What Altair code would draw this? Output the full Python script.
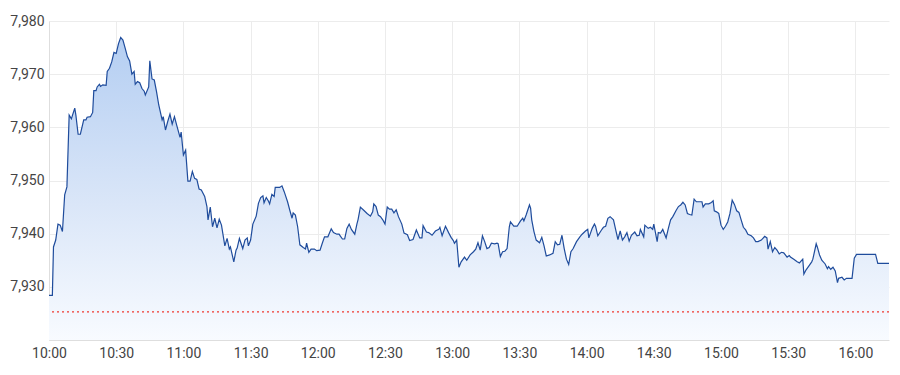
import altair as alt
import pandas as pd

# ---- data ----
times = [
    "10:00:00", "10:01:30", "10:02:00", "10:03:00", "10:04:00", "10:05:00", "10:06:00", "10:07:00",
    "10:08:00", "10:09:00", "10:10:00", "10:10:30", "10:11:30", "10:12:00", "10:13:00", "10:14:00",
    "10:15:30", "10:16:30", "10:17:00", "10:18:30", "10:19:30", "10:20:00", "10:21:00", "10:21:30",
    "10:22:30", "10:23:00", "10:24:00", "10:25:30", "10:26:00", "10:27:00", "10:28:00", "10:29:00",
    "10:30:00", "10:31:00", "10:32:00", "10:33:00", "10:34:00", "10:35:00", "10:36:00", "10:37:00",
    "10:38:00", "10:38:30", "10:39:30", "10:40:30", "10:41:30", "10:42:30", "10:43:00", "10:44:30",
    "10:45:00", "10:46:00", "10:47:00", "10:48:00", "10:49:00", "10:50:30", "10:51:00", "10:52:00",
    "10:53:00", "10:54:00", "10:55:00", "10:56:00", "10:57:00", "10:58:30", "10:59:00", "11:00:00",
    "11:01:00", "11:02:00", "11:03:00", "11:04:00", "11:05:00", "11:06:00", "11:07:00", "11:08:00",
    "11:09:30", "11:10:30", "11:11:00", "11:12:00", "11:13:00", "11:14:00", "11:15:00", "11:16:00",
    "11:17:00", "11:18:30", "11:19:30", "11:20:30", "11:21:00", "11:22:30", "11:23:30", "11:24:00",
    "11:25:00", "11:26:30", "11:27:30", "11:28:30", "11:29:00", "11:30:00", "11:31:00", "11:32:30",
    "11:33:30", "11:34:30", "11:35:30", "11:36:00", "11:37:00", "11:38:00", "11:38:30", "11:39:30",
    "11:40:30", "11:41:00", "11:43:00", "11:44:00", "11:45:00", "11:46:30", "11:47:30", "11:48:30",
    "11:49:00", "11:50:00", "11:51:00", "11:52:00", "11:53:30", "11:54:30", "11:55:00", "11:56:00",
    "11:57:00", "11:58:30", "11:59:30", "12:01:00", "12:02:00", "12:03:00", "12:04:30", "12:06:00",
    "12:07:00", "12:08:30", "12:09:30", "12:10:00", "12:11:00", "12:12:00", "12:13:00", "12:14:00",
    "12:15:00", "12:16:30", "12:17:30", "12:18:00", "12:19:00", "12:20:30", "12:22:00", "12:23:30",
    "12:24:30", "12:25:00", "12:26:00", "12:27:00", "12:28:00", "12:29:00", "12:30:00", "12:31:00",
    "12:32:00", "12:33:00", "12:34:00", "12:35:00", "12:36:00", "12:37:30", "12:38:30", "12:40:00",
    "12:41:00", "12:42:30", "12:44:00", "12:45:30", "12:46:30", "12:47:00", "12:48:30", "12:49:30",
    "12:51:00", "12:52:30", "12:54:00", "12:54:30", "12:55:30", "12:57:00", "12:58:30", "12:59:30",
    "13:00:30", "13:01:00", "13:02:00", "13:03:00", "13:04:00", "13:05:30", "13:06:30", "13:08:00",
    "13:09:30", "13:10:30", "13:11:30", "13:12:30", "13:13:30", "13:14:30", "13:15:30", "13:16:30",
    "13:17:30", "13:19:00", "13:20:00", "13:20:30", "13:21:30", "13:22:30", "13:23:30", "13:24:30",
    "13:25:30", "13:26:00", "13:27:30", "13:29:00", "13:30:30", "13:31:30", "13:32:00", "13:33:00",
    "13:34:30", "13:35:00", "13:35:30", "13:36:30", "13:37:30", "13:39:00", "13:40:00", "13:41:00",
    "13:42:00", "13:43:30", "13:45:00", "13:46:00", "13:47:00", "13:48:00", "13:49:00", "13:50:00",
    "13:51:00", "13:52:00", "13:53:00", "13:54:00", "13:55:30", "13:57:00", "13:58:00", "13:59:30",
    "14:00:30", "14:01:00", "14:02:30", "14:03:30", "14:04:00", "14:05:00", "14:06:30", "14:07:30",
    "14:08:30", "14:09:30", "14:10:30", "14:12:00", "14:13:00", "14:14:00", "14:15:00", "14:16:00",
    "14:17:00", "14:18:00", "14:19:00", "14:20:00", "14:21:30", "14:22:30", "14:23:30", "14:24:00",
    "14:25:30", "14:26:00", "14:27:30", "14:28:30", "14:29:30", "14:30:00", "14:31:30", "14:32:00",
    "14:33:00", "14:34:00", "14:35:30", "14:36:30", "14:37:30", "14:38:30", "14:40:00", "14:41:00",
    "14:42:00", "14:43:00", "14:44:00", "14:45:00", "14:46:00", "14:47:00", "14:48:00", "14:49:00",
    "14:50:30", "14:51:30", "14:52:00", "14:53:00", "14:54:30", "14:55:30", "14:56:30", "14:57:00",
    "14:58:00", "14:59:00", "15:00:00", "15:01:00", "15:02:00", "15:03:00", "15:04:00", "15:05:00",
    "15:06:00", "15:07:00", "15:08:00", "15:09:00", "15:10:00", "15:11:00", "15:12:00", "15:13:30",
    "15:14:30", "15:15:30", "15:16:30", "15:18:00", "15:19:30", "15:20:30", "15:21:00", "15:22:00",
    "15:23:00", "15:24:00", "15:25:00", "15:26:00", "15:27:00", "15:28:00", "15:29:30", "15:30:30",
    "15:31:00", "15:32:30", "15:34:00", "15:35:00", "15:36:30", "15:37:00", "15:38:00", "15:39:30",
    "15:40:30", "15:41:00", "15:42:30", "15:43:00", "15:44:00", "15:45:00", "15:46:30", "15:47:30",
    "15:48:00", "15:49:00", "15:50:00", "15:51:00", "15:52:00", "15:52:30", "15:54:00", "15:55:00",
    "15:56:00", "15:58:30", "15:59:30", "16:00:30", "16:09:00", "16:10:00", "16:15:00",
]

prices = [
    7928.4, 7928.4, 7937.5, 7938.8, 7941.8, 7941.6, 7940.4, 7947.3,
    7948.8, 7962.3, 7961.6, 7962.3, 7963.6, 7962.3, 7958.7, 7958.7,
    7961.4, 7961.4, 7961.9, 7962.0, 7962.8, 7966.9, 7966.9, 7967.6,
    7968.1, 7967.7, 7968.0, 7967.9, 7970.5, 7971.1, 7972.3, 7974.1,
    7973.9, 7975.7, 7976.9, 7976.4, 7974.9, 7973.3, 7972.5, 7970.0,
    7970.5, 7968.1, 7968.6, 7968.4, 7967.3, 7966.8, 7966.1, 7967.6,
    7972.5, 7969.1, 7968.9, 7966.7, 7964.2, 7961.4, 7962.0, 7959.5,
    7961.1, 7962.5, 7960.6, 7962.0, 7960.4, 7958.1, 7959.1, 7954.8,
    7955.7, 7949.9, 7949.9, 7951.7, 7950.4, 7950.2, 7948.4, 7948.2,
    7947.0, 7945.1, 7942.6, 7945.0, 7941.3, 7942.9, 7941.1, 7942.7,
    7941.6, 7937.7, 7939.1, 7937.1, 7937.5, 7934.7, 7936.9, 7937.3,
    7939.1, 7937.2, 7938.8, 7939.2, 7937.7, 7938.8, 7941.8, 7943.3,
    7945.7, 7946.8, 7947.1, 7945.8, 7946.8, 7946.1, 7945.6, 7947.4,
    7947.0, 7948.7, 7948.7, 7949.0, 7947.9, 7946.0, 7944.4, 7942.9,
    7943.9, 7943.5, 7941.3, 7937.9, 7937.4, 7937.1, 7938.2, 7936.5,
    7937.1, 7937.1, 7936.8, 7936.9, 7938.2, 7939.4, 7939.4, 7940.9,
    7940.2, 7939.9, 7939.9, 7939.6, 7939.0, 7939.0, 7941.0, 7941.8,
    7940.8, 7939.9, 7941.9, 7942.7, 7945.0, 7944.4, 7943.8, 7943.3,
    7944.1, 7945.6, 7945.1, 7943.5, 7943.2, 7942.6, 7941.8, 7945.0,
    7944.6, 7944.6, 7943.9, 7944.5, 7943.2, 7941.8, 7940.1, 7939.8,
    7938.7, 7938.9, 7940.7, 7939.2, 7939.2, 7941.5, 7940.3, 7940.2,
    7939.7, 7940.5, 7940.8, 7941.2, 7939.6, 7941.4, 7940.1, 7939.3,
    7938.7, 7938.2, 7938.8, 7933.7, 7934.7, 7935.6, 7935.0, 7936.0,
    7936.6, 7937.1, 7938.3, 7936.9, 7939.6, 7938.5, 7937.2, 7937.4,
    7938.2, 7938.1, 7938.2, 7938.1, 7935.7, 7936.6, 7936.7, 7937.2,
    7941.3, 7942.2, 7941.4, 7941.4, 7942.4, 7942.9, 7942.4, 7943.5,
    7945.4, 7944.8, 7942.6, 7940.4, 7938.8, 7938.3, 7939.3, 7937.7,
    7935.8, 7936.0, 7936.3, 7938.5, 7937.9, 7938.0, 7939.7, 7937.2,
    7935.2, 7934.2, 7936.6, 7937.2, 7938.5, 7939.4, 7939.9, 7940.5,
    7940.8, 7939.2, 7941.0, 7941.8, 7941.4, 7939.6, 7940.6, 7941.2,
    7941.4, 7942.9, 7943.2, 7942.6, 7940.7, 7938.9, 7940.5, 7938.8,
    7939.4, 7940.2, 7938.6, 7939.7, 7940.3, 7939.6, 7939.7, 7940.8,
    7939.4, 7941.6, 7941.0, 7941.2, 7940.8, 7941.8, 7938.5, 7940.2,
    7940.1, 7940.8, 7939.2, 7941.0, 7942.6, 7943.2, 7944.4, 7945.1,
    7945.4, 7945.9, 7945.4, 7943.8, 7943.6, 7943.5, 7946.5, 7946.0,
    7946.0, 7946.0, 7945.0, 7945.6, 7945.6, 7945.8, 7946.2, 7944.3,
    7944.1, 7943.8, 7941.6, 7940.8, 7941.4, 7942.2, 7943.8, 7946.3,
    7945.5, 7944.3, 7944.0, 7942.6, 7941.2, 7940.7, 7939.9, 7939.6,
    7939.2, 7938.5, 7938.5, 7938.8, 7939.5, 7939.2, 7937.1, 7938.5,
    7936.6, 7937.4, 7936.9, 7936.2, 7936.5, 7936.4, 7935.6, 7935.9,
    7935.6, 7935.2, 7934.7, 7934.5, 7935.2, 7932.4, 7933.2, 7934.1,
    7934.7, 7935.2, 7938.1, 7937.5, 7936.0, 7935.0, 7934.3, 7933.4,
    7933.8, 7933.3, 7933.7, 7933.0, 7930.8, 7931.6, 7931.8, 7931.3,
    7931.6, 7931.6, 7935.4, 7936.1, 7936.1, 7934.4, 7934.4,
]

previous_close = 7925.3
x_tick_labels = ["10:00", "10:30", "11:00", "11:30", "12:00", "12:30", "13:00",
                 "13:30", "14:00", "14:30", "15:00", "15:30", "16:00"]
y_tick_values = [7930, 7940, 7950, 7960, 7970, 7980]
x_range = ["10:00", "16:15"]
y_range = [7920, 7980]

DAY = "2024-01-02"
df = pd.DataFrame({
    "time": pd.to_datetime([f"{DAY} {t}" for t in times]),
    "price": prices,
})


def dt(hhmm):
    h, m = hhmm.split(":")
    return alt.DateTime(year=2024, month=1, date=2, hours=int(h), minutes=int(m))


x_enc = alt.X(
    "time:T",
    scale=alt.Scale(domain=[dt(x_range[0]), dt(x_range[1])]),
    axis=alt.Axis(values=[dt(t) for t in x_tick_labels], format="%H:%M",
                  title=None, labelFlush=False),
)
y_enc = alt.Y(
    "price:Q",
    scale=alt.Scale(domain=y_range, zero=False, nice=False),
    axis=alt.Axis(values=y_tick_values, format=",.0f", title=None, labelFlush=False),
)

area = alt.Chart(df).mark_area(
    clip=True,
    color=alt.Gradient(
        gradient="linear",
        stops=[alt.GradientStop(color="#b4cef2", offset=0),
               alt.GradientStop(color="#dae6f8", offset=0.55),
               alt.GradientStop(color="#f8fbff", offset=1)],
        x1=1, x2=1, y1=0, y2=1,
    ),
).encode(x=x_enc, y=y_enc, y2=alt.datum(y_range[0]))

line = alt.Chart(df).mark_line(
    clip=True, color="#1f4c9c", strokeWidth=1.2
).encode(x="time:T", y="price:Q")

rule = alt.Chart(pd.DataFrame({"prev": [previous_close]})).mark_rule(
    color="#f03a30", strokeWidth=1.2, strokeDash=[2, 3]
).encode(y="prev:Q")

chart = alt.layer(area, line, rule).properties(
    width=840,
    height=319,
    autosize=alt.AutoSizeParams(type="none"),
    padding={"left": 49, "top": 21, "right": 11, "bottom": 35},
    background="white",
).configure_view(stroke=None).configure_axis(
    grid=True,
    gridColor="#ececec",
    gridWidth=1,
    domainColor="#dedede",
    ticks=False,
    labelFont="Roboto",
    labelFontSize=14,
    labelColor="#444444",
).configure_axisX(labelPadding=6).configure_axisY(labelPadding=5)

chart.save("out.html", embed_options={"renderer": "svg", "actions": False})
